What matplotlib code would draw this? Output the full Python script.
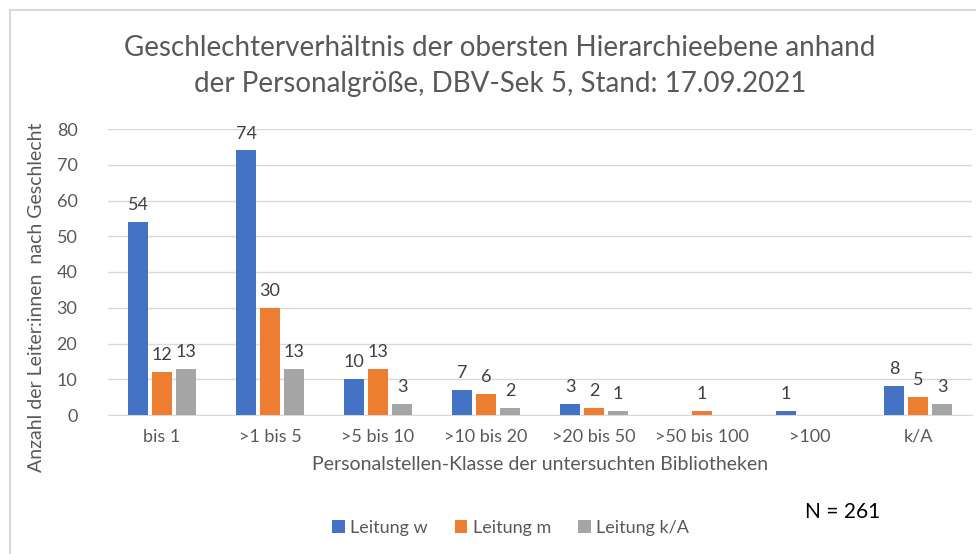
import numpy as np
import matplotlib.pyplot as plt
from matplotlib.patches import Rectangle

plt.rcParams['font.family'] = ['Lato', 'DejaVu Sans']

categories = ["bis 1", ">1 bis 5", ">5 bis 10", ">10 bis 20", ">20 bis 50", ">50 bis 100", ">100", "k/A"]
leitung_w = [54, 74, 10, 7, 3, 0, 1, 8]
leitung_m = [12, 30, 13, 6, 2, 1, 0, 5]
leitung_ka = [13, 13, 3, 2, 1, 0, 0, 3]
series_names = ["Leitung w", "Leitung m", "Leitung k/A"]
colors = ["#4472C4", "#ED7D31", "#A5A5A5"]
text_color = "#595959"

fig = plt.figure(figsize=(9.76, 5.54), dpi=100)
fig.patches.append(Rectangle((10 / 976, -0.1), 1.2, (554 - 10) / 554 + 0.1,
                             transform=fig.transFigure, fill=False,
                             edgecolor="#d9d9d9", linewidth=1.5))
ax = fig.add_axes([108 / 976, 1 - 415 / 554, (972 - 108) / 976, (415 - 129) / 554])

x = np.arange(len(categories))
width = 0.185
step = 0.222
for i, (vals, name, c) in enumerate(zip([leitung_w, leitung_m, leitung_ka], series_names, colors)):
    pos = x + (i - 1) * step
    ax.bar(pos, vals, width, color=c, label=name, zorder=3)
    for p, v in zip(pos, vals):
        if v > 0:
            ax.text(p, v + 2.5, str(v), ha="center", va="bottom", fontsize=13, color="#404040")

ax.set_xlim(-0.5, len(categories) - 0.5)
ax.set_ylim(0, 80)
ax.set_yticks(range(0, 81, 10))
ax.set_xticks(x)
ax.set_xticklabels(categories)
ax.tick_params(axis="both", length=0, labelsize=13, labelcolor=text_color)
ax.tick_params(axis="y", pad=22)
ax.tick_params(axis="x", pad=10)
ax.grid(axis="y", color="#d9d9d9", linewidth=1, zorder=0)
for s in ["top", "right", "left"]:
    ax.spines[s].set_visible(False)
ax.spines["bottom"].set_color("#d9d9d9")

ax.set_ylabel("Anzahl der Leiter:innen  nach Geschlecht", fontsize=14, color=text_color)
ax.yaxis.set_label_coords(-0.073, 0.41)
ax.set_xlabel("Personalstellen-Klasse der untersuchten Bibliotheken", fontsize=14, color=text_color, labelpad=8)

fig.text(0.512, 1 - 66 / 554, "Geschlechterverhältnis der obersten Hierarchieebene anhand\nder Personalgröße, DBV-Sek 5, Stand: 17.09.2021",
         ha="center", va="center", fontsize=20, color=text_color, linespacing=1.45)
fig.text(843 / 976, 1 - 512 / 554, "N = 261", ha="center", va="center", fontsize=15, color="black")

fig.legend(loc="center", bbox_to_anchor=(0.523, 1 - 528 / 554), ncol=3, frameon=False,
           fontsize=13, labelcolor=text_color, handlelength=0.7, handleheight=0.7,
           handletextpad=0.3, columnspacing=1.5)

fig.savefig("out.png", dpi=100)
